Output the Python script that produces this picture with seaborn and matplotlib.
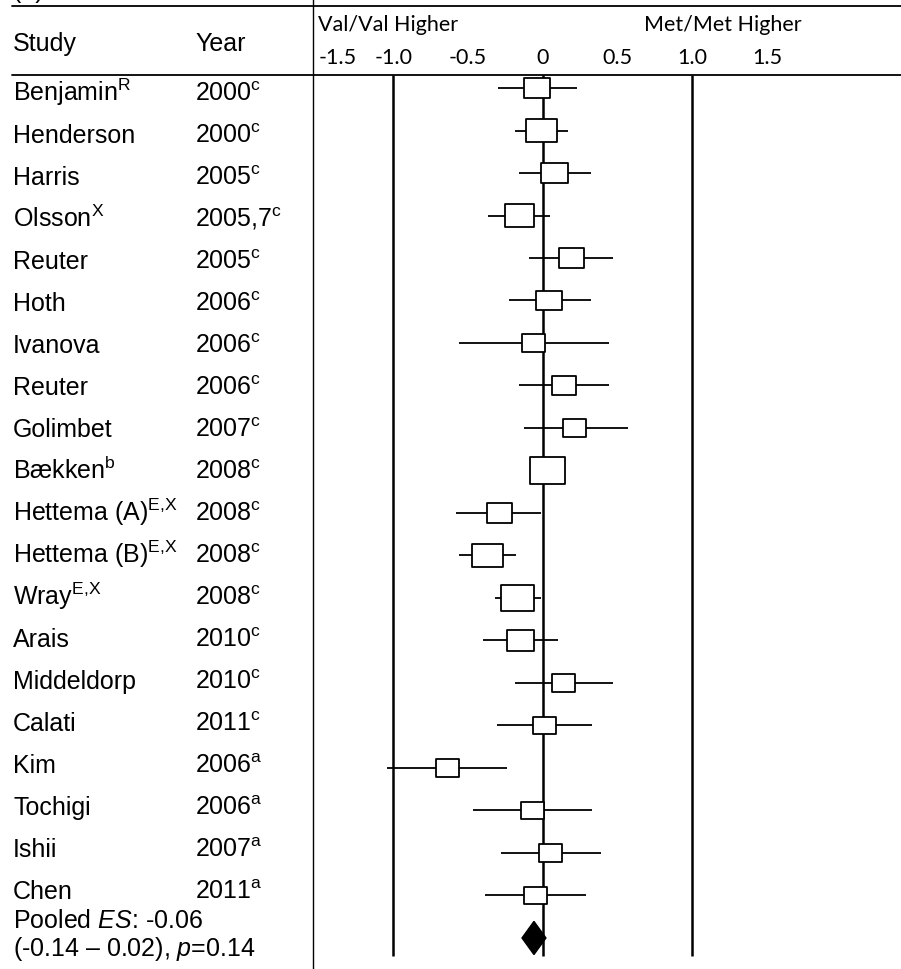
import matplotlib.pyplot as plt
import matplotlib.transforms as mtransforms
from matplotlib.lines import Line2D
from matplotlib.path import Path
import pandas as pd
import seaborn as sns

# study table
studies = ["Benjamin", "Henderson", "Harris", "Olsson", "Reuter", "Hoth", "Ivanova",
           "Reuter", "Golimbet", "Bækken", "Hettema (A)", "Hettema (B)", "Wray", "Arais",
           "Middeldorp", "Calati", "Kim", "Tochigi", "Ishii", "Chen"]
study_marks = ["R", "", "", "X", "", "", "", "", "", "b", "E,X", "E,X", "E,X", "",
               "", "", "", "", "", ""]
years = ["2000", "2000", "2005", "2005,7", "2005", "2006", "2006", "2006", "2007",
         "2008", "2008", "2008", "2008", "2010", "2010", "2011", "2006", "2006",
         "2007", "2011"]
year_marks = ["c", "c", "c", "c", "c", "c", "c", "c", "c", "c", "c", "c", "c", "c",
              "c", "c", "a", "a", "a", "a"]

# effect sizes
effect = [-0.04, -0.01, 0.08, -0.16, 0.19, 0.04, -0.06, 0.14, 0.21, 0.03,
          -0.29, -0.37, -0.17, -0.15, 0.14, 0.01, -0.64, -0.07, 0.05, -0.05]
ci_low = [-0.30, -0.19, -0.16, -0.37, -0.09, -0.23, -0.56, -0.16, -0.13, -0.08,
          -0.58, -0.56, -0.32, -0.40, -0.19, -0.31, -1.04, -0.47, -0.28, -0.39]
ci_high = [0.23, 0.17, 0.32, 0.05, 0.47, 0.32, 0.44, 0.44, 0.57, 0.14,
           -0.01, -0.18, -0.01, 0.10, 0.47, 0.33, -0.24, 0.33, 0.39, 0.29]
weight = [4.8, 6.8, 5.2, 6.0, 4.5, 4.8, 3.8, 4.1, 3.8, 9.1,
          4.5, 6.8, 8.1, 5.2, 3.8, 3.8, 3.8, 3.5, 3.8, 3.8]

pooled_es = -0.06
pooled_low = -0.14
pooled_high = 0.02
pooled_p = 0.14

tick_values = [-1.5, -1.0, -0.5, 0, 0.5, 1.0, 1.5]
tick_labels = ["-1.5", "-1.0", "-0.5", "0", "0.5", "1.0", "1.5"]
ref_lines = [-1.0, 0, 1.0]

df = pd.DataFrame({"effect": effect, "low": ci_low, "high": ci_high,
                   "weight": weight, "row": range(len(studies))})
pooled_row = len(studies)

sns.set_theme(style="white")
plt.rcParams["font.family"] = ["Liberation Sans", "DejaVu Sans"]
plt.rcParams["mathtext.fontset"] = "custom"
plt.rcParams["mathtext.rm"] = "Liberation Sans"
plt.rcParams["mathtext.it"] = "Liberation Sans:italic"
plt.rcParams["mathtext.bf"] = "Liberation Sans:bold"

W, H = 901, 970
FS = 18
fig = plt.figure(figsize=(W / 100, H / 100), dpi=100)


def fx(px):
    return px / W


def fy(py):
    return 1 - py / H


# forest panel: x=-1 at 394px, 0 at 543px, 1 at 693px; rows 42.5px apart from y=89
ax = fig.add_axes([fx(313), 0, 1 - fx(313), fy(76)])

ax.vlines(ref_lines, ymin=-0.31, ymax=20.42, colors="black", linewidth=1.8, zorder=1)
ax.hlines(df["row"], df["low"], df["high"], colors="black", linewidth=1.3, zorder=2)

box = Path([(-0.5, -0.38), (0.5, -0.38), (0.5, 0.38), (-0.5, 0.38), (-0.5, -0.38)],
           [Path.MOVETO, Path.LINETO, Path.LINETO, Path.LINETO, Path.CLOSEPOLY])
sns.scatterplot(data=df, x="effect", y="row", size="weight",
                sizes=(0, 660), size_norm=(0, max(weight)),
                marker=box, color="white", edgecolor="black", linewidth=1.3,
                legend=False, ax=ax, zorder=3)

ax.fill([pooled_low, pooled_es, pooled_high, pooled_es],
        [pooled_row, pooled_row - 0.39, pooled_row, pooled_row + 0.39],
        color="black", zorder=4)

ax.set_xlim(-1.538, 2.395)
ax.set_ylim(20.73, -0.306)
ax.set_xlabel("")
ax.set_ylabel("")
ax.set_yticks([])
ax.xaxis.tick_top()
ax.set_xticks(tick_values)
ax.set_xticklabels(tick_labels, fontsize=15.5, family=["Lato", "DejaVu Sans"])
ax.tick_params(axis="x", length=0, pad=6, colors="black")
ax.get_xticklabels()[0].set_ha("left")
for s in ax.spines.values():
    s.set_visible(False)
ax.patch.set_alpha(0)

# header
hfont = dict(fontsize=15.5, family=["Lato", "DejaVu Sans"], color="black")
fig.text(fx(318), fy(25), "Val/Val Higher", ha="left", va="center", **hfont)
fig.text(fx(802), fy(25), "Met/Met Higher", ha="right", va="center", **hfont)
fig.text(fx(13), fy(-2), "(a) Combined Caucasian + Asian", ha="left", va="baseline",
         fontsize=FS, color="black")
fig.text(fx(13), fy(51), "Study", ha="left", va="baseline", fontsize=FS, color="black")
fig.text(fx(195), fy(51), "Year", ha="left", va="baseline", fontsize=FS, color="black")

fig.add_artist(Line2D([fx(12), 1], [fy(7), fy(7)], color="black", linewidth=1.3))
fig.add_artist(Line2D([fx(12), 1], [fy(76), fy(76)], color="black", linewidth=1.3))
fig.add_artist(Line2D([fx(313), fx(313)], [0, 1], color="black", linewidth=1.0))

# table text; text rows run on a slightly tighter pitch than the marks
trans = mtransforms.blended_transform_factory(fig.transFigure, ax.transData)
for r, (name, nm, yr, ym) in enumerate(zip(studies, study_marks, years, year_marks)):
    base = r + (12 - 0.5 * r) / 42.5
    nm = nm.replace(",", "{,}")
    label = name + (f"$^{{\\mathregular{{{nm}}}}}$" if nm else "")
    ax.text(fx(13), base, label, transform=trans, ha="left", va="baseline",
            fontsize=FS, color="black", clip_on=False)
    ax.text(fx(195), base, f"{yr}$^{{\\mathregular{{{ym}}}}}$", transform=trans,
            ha="left", va="baseline", fontsize=FS, color="black", clip_on=False)

ax.text(fx(13), pooled_row - 0.26, f"Pooled $\\mathit{{ES}}$: {pooled_es:.2f}",
        transform=trans, ha="left", va="baseline", fontsize=FS, color="black",
        clip_on=False)
ax.text(fx(13), pooled_row + 0.4,
        f"({pooled_low:.2f} \u2013 {pooled_high:.2f}), $\\mathit{{p}}$={pooled_p:.2f}",
        transform=trans, ha="left", va="baseline", fontsize=FS, color="black",
        clip_on=False)

fig.savefig("out.png", dpi=100)
